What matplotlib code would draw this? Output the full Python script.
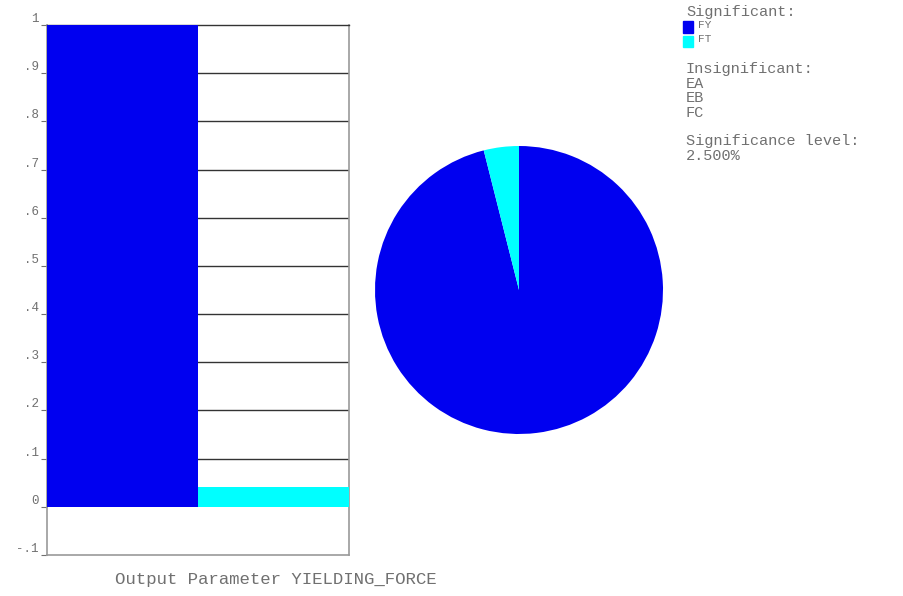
import matplotlib.pyplot as plt

params = ['FY', 'FT']
values = [1.0, 0.041]
colors = ['#0000f0', '#00ffff']
insignificant = ['EA', 'EB', 'FC']
sig_level = '2.500%'
yticks = [-0.1, 0, 0.1, 0.2, 0.3, 0.4, 0.5, 0.6, 0.7, 0.8, 0.9, 1.0]
ytick_labels = ['-.1', '0', '.1', '.2', '.3', '.4', '.5', '.6', '.7', '.8', '.9', '1']

mono = 'Liberation Mono'
grey = '#707070'

fig = plt.figure(figsize=(9.04, 5.96), dpi=100)

# bar chart of the sensitivities
ax = fig.add_axes([0.052, 0.0688, 0.334, 0.889])
ax.bar(range(len(values)), values, width=1.0, color=colors, zorder=3)
ax.set_xlim(-0.5, len(values) - 0.5)
ax.set_ylim(-0.1, 1.0)
for y in yticks[2:-1]:
    ax.axhline(y, color='#333333', lw=1.0, zorder=1)
ax.set_yticks(yticks)
ax.set_yticklabels(ytick_labels, fontfamily=mono, fontsize=9, color=grey)
for lab in ax.get_yticklabels():
    lab.set_va('bottom')
ax.tick_params(axis='y', length=4, width=0.8, color=grey, pad=2)
ax.set_xticks([])
for side in ['left', 'right', 'bottom']:
    ax.spines[side].set_color('#999999')
    ax.spines[side].set_linewidth(1.2)
ax.spines['top'].set_color('#333333')
ax.spines['top'].set_linewidth(1.0)

fig.text(0.305, 0.027, 'Output Parameter YIELDING_FORCE', fontfamily=mono,
         fontsize=12.5, color=grey, ha='center', va='center')

# pie of the relative share
pax = fig.add_axes([375 / 904, 1 - 434 / 596, 288 / 904, 288 / 596])
pax.pie(values, colors=colors, startangle=90, counterclock=False,
        radius=1.0, wedgeprops=dict(linewidth=0))
pax.set_xlim(-1, 1)
pax.set_ylim(-1, 1)
pax.set_aspect('equal')

# legend text block
x0 = 686 / 904
lines = [('Significant:', None)]
lines += [(p, c) for p, c in zip(params, colors)]
lines += [('', None), ('Insignificant:', None)]
lines += [(p, None) for p in insignificant]
lines += [('', None), ('Significance level:', None), (sig_level, None)]
y = 12
for txt, col in lines:
    if txt == '':
        y += 14
        continue
    if col is not None:
        fig.patches.append(plt.Rectangle((x0 - 3 / 904, 1 - (y + 6) / 596), 10 / 904, 11 / 596,
                                         transform=fig.transFigure, color=col, figure=fig))
        fig.text(x0 + 12 / 904, 1 - (y - 2) / 596, txt, fontfamily=mono, fontsize=8,
                 color=grey, va='center')
    else:
        fig.text(x0, 1 - y / 596, txt, fontfamily=mono, fontsize=11,
                 color=grey, va='center')
    y += 14.5

fig.savefig('out.png', dpi=100)
